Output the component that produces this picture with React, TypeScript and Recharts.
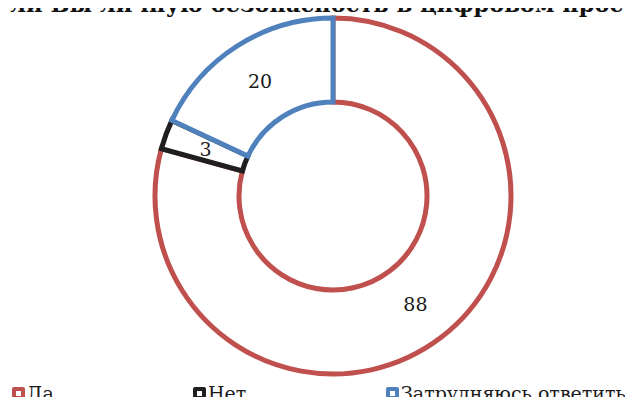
import { PieChart, Pie, Cell, Legend } from "recharts";

const categories = ["Да", "Нет", "Затрудняюсь ответить"];
const values = [88, 3, 20];
const colors = ["#C0504D", "#1F1F1F", "#4F81BD"];
const title = "Обеспечиваете ли Вы личную безопасность в цифровом пространстве?";

const data = categories.map((name, i) => ({ name, value: values[i], color: colors[i] }));

const FONT = "'DejaVu Serif', serif";
const RAD = Math.PI / 180;

// eslint-disable-next-line @typescript-eslint/no-explicit-any
function renderLabel(props: any) {
  const { cx, cy, midAngle, innerRadius, outerRadius, value } = props;
  const r = (innerRadius + outerRadius) / 2;
  const x = cx + r * Math.cos(-midAngle * RAD);
  const y = cy + r * Math.sin(-midAngle * RAD);
  return (
    <text
      x={x}
      y={y}
      textAnchor="middle"
      dominantBaseline="central"
      style={{ fontFamily: FONT, fontSize: 19 }}
      fill="#1a1a1a"
    >
      {value}
    </text>
  );
}

const legendLeft = [12, 193, 386];

function renderLegend() {
  return (
    <div style={{ position: "relative", height: 22, fontFamily: FONT, fontSize: 19, lineHeight: "22px", color: "#1a1a1a" }}>
      {data.map((d, i) => (
        <div
          key={d.name}
          style={{ position: "absolute", left: legendLeft[i], top: 0, display: "flex", alignItems: "center", whiteSpace: "nowrap" }}
        >
          <span
            style={{
              display: "inline-block",
              width: 5,
              height: 5,
              border: `4.5px solid ${d.color}`,
              borderRadius: 2,
              background: "#fff",
              marginRight: 2,
              marginTop: 1,
            }}
          />
          {d.name}
        </div>
      ))}
    </div>
  );
}

export default function App() {
  return (
    <div style={{ position: "relative", width: 633, height: 405, overflow: "hidden", margin: -8, background: "#fff" }}>
      <div
        style={{
          position: "absolute",
          top: -7.5,
          left: -197,
          whiteSpace: "nowrap",
          fontFamily: FONT,
          fontWeight: "bold",
          fontSize: 22.5,
          lineHeight: "22.5px",
          color: "#111",
        }}
      >
        {title}
      </div>
      <PieChart width={633} height={405} margin={{ top: 0, right: 0, bottom: 0, left: 0 }}>
        <Pie
          data={data}
          dataKey="value"
          nameKey="name"
          cx={333}
          cy={196}
          innerRadius={94}
          outerRadius={178}
          startAngle={90}
          endAngle={-270}
          stroke="none"
          label={renderLabel}
          labelLine={false}
          isAnimationActive={false}
        >
          {data.map((d, i) => (
            <Cell key={i} fill="#fff" stroke={d.color} strokeWidth={5} />
          ))}
        </Pie>
        <Legend
          verticalAlign="bottom"
          align="left"
          content={renderLegend}
          wrapperStyle={{ left: 0, top: 382, bottom: "auto", width: 633 }}
        />
      </PieChart>
    </div>
  );
}
